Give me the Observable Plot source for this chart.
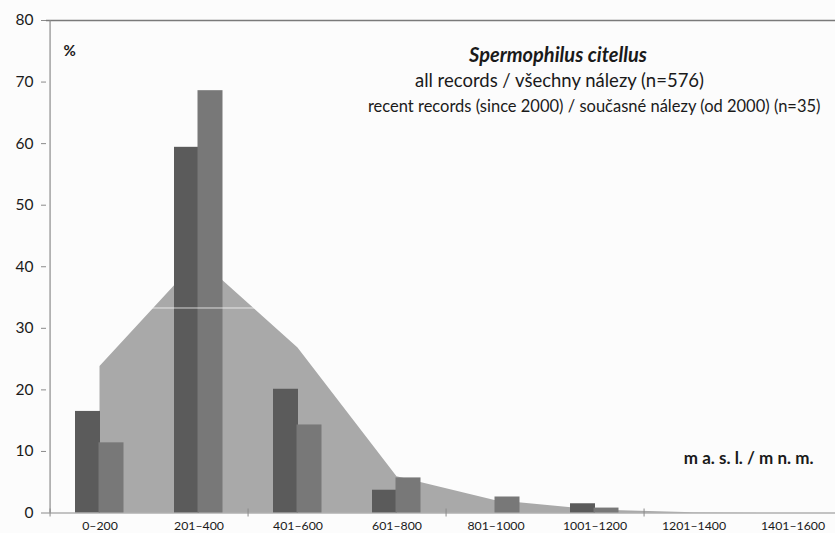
<!DOCTYPE html>
<html><head><meta charset="utf-8">
<script src="https://cdn.jsdelivr.net/npm/d3@7"></script>
<script src="https://cdn.jsdelivr.net/npm/@observablehq/plot@0.6"></script>
<style>
html,body{margin:0;padding:0;background:#fcfcfc;}
svg{display:block;}
</style>
</head><body><div id="chart"></div>
<script>
// ---- data ----
const categories = ["0–200","201–400","401–600","601–800","801–1000","1001–1200","1201–1400","1401–1600"];
const allRecords = [16.5, 59.4, 20.1, 3.7, 0, 1.5, 0, 0];
const recentRecords = [11.4, 68.6, 14.3, 5.7, 2.6, 0.8, 0, 0];
const areaShare = [23.8, 41.2, 26.8, 5.9, 2.0, 0.5, 0.05, 0];
const yTicks = [0, 10, 20, 30, 40, 50, 60, 70, 80];
const tickedBoundaries = ["0–200","401–600","801–1000","1201–1400"];
const whiteLine = [33.3];
const titleSpecies = "Spermophilus citellus";
const titleAll = "all records / všechny nálezy (n=576)";
const titleRecent = "recent records (since 2000) / současné nálezy (od 2000) (n=35)";
const yUnit = "%";
const xUnit = "m a. s. l. / m n. m.";

const rows = categories.map((c, i) => ({cat: c, all: allRecords[i], recent: recentRecords[i], area: areaShare[i]}));

const W = 835, H = 533;
const x0 = 46, x1 = 845;
const bw = (x1 - x0) / categories.length;
const gray = "#8a8a8a";
const font = "Lato, 'Open Sans', sans-serif";

const chart = Plot.plot({
  width: W, height: H,
  marginLeft: 46, marginRight: 0, marginTop: 20, marginBottom: 20.5,
  style: {background: "#fcfcfc", fontFamily: font, color: "#1a1a1a", overflow: "hidden"},
  x: {type: "band", domain: categories, range: [x0, x1], padding: 0, label: null},
  y: {domain: [0, 80], range: [512.5, 20], label: null},
  marks: [
    Plot.areaY(rows, {x: "cat", y: "area", fill: "#a9a9a9", curve: "linear"}),
    Plot.barY(rows, {x: "cat", y: "all", fill: "#5b5b5b", insetLeft: 25, insetRight: 49}),
    Plot.barY(rows, {x: "cat", y: "recent", fill: "#787878", insetLeft: 48.5, insetRight: 25.5}),
    Plot.ruleY(whiteLine, {stroke: "#fcfcfc", strokeOpacity: 0.75, strokeWidth: 1}),
    Plot.ruleY([0], {stroke: gray, strokeWidth: 1.2}),
    Plot.ruleY([80], {stroke: "#7a7a7a", strokeWidth: 1.6}),
    Plot.ruleX([categories[0]], {dx: -bw / 2, stroke: gray, strokeWidth: 1.2}),
    Plot.axisY({ticks: yTicks, tickSize: 5, text: null, stroke: gray, label: null}),
    Plot.axisY({ticks: yTicks, tickSize: 0, tickPadding: 13, fontSize: 15.5, fill: "#1a1a1a", label: null}),
    Plot.axisX({ticks: tickedBoundaries, tickSize: 8, text: null, dx: -bw / 2, dy: -4, stroke: gray, label: null}),
    Plot.axisX({tickSize: 0, tickPadding: 8.5, fontSize: 12.3, fill: "#1a1a1a", label: null}),
    Plot.text([yUnit], {text: d => d, frameAnchor: "top-left", dx: 17, dy: 35, textAnchor: "start", lineAnchor: "bottom", fontWeight: "bold", fontSize: 15}),
    Plot.text([titleSpecies], {text: d => d, frameAnchor: "top-left", dx: 511.5, dy: 41.7, textAnchor: "middle", lineAnchor: "bottom", fontWeight: "bold", fontStyle: "italic", fontSize: 20}),
    Plot.text([titleAll], {text: d => d, frameAnchor: "top-left", dx: 513, dy: 66.7, textAnchor: "middle", lineAnchor: "bottom", fontSize: 18.5}),
    Plot.text([titleRecent], {text: d => d, frameAnchor: "top-left", dx: 774, dy: 91.7, textAnchor: "end", lineAnchor: "bottom", fontSize: 16.5}),
    Plot.text([xUnit], {text: d => d, frameAnchor: "top-left", dx: 767, dy: 443.3, textAnchor: "end", lineAnchor: "bottom", fontWeight: "bold", fontSize: 17})
  ]
});
document.getElementById("chart").appendChild(chart);
</script>
</body></html>
